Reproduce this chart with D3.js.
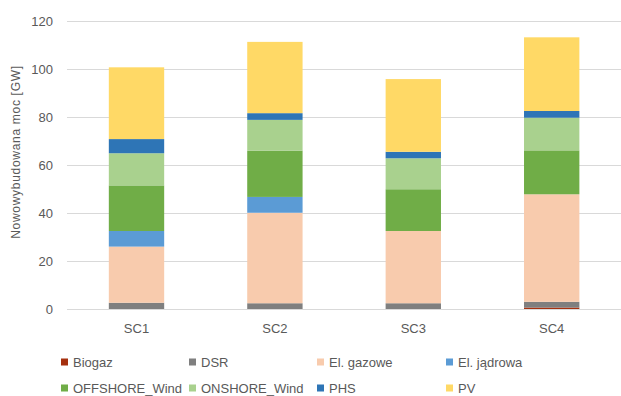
<!DOCTYPE html>
<html><head><meta charset="utf-8">
<script src="https://cdn.jsdelivr.net/npm/d3@7"></script>
<style>body{margin:0;background:#fff}svg{display:block}</style>
</head><body><svg id="c" width="621" height="396"></svg>
<script>
const categories = ["SC1","SC2","SC3","SC4"];
const seriesNames = ["Biogaz","DSR","El. gazowe","El. jądrowa","OFFSHORE_Wind","ONSHORE_Wind","PHS","PV"];
const biogaz   = [0, 0, 0, 0.6];
const dsr      = [2.6, 2.4, 2.4, 2.4];
const gazowe   = [23.4, 37.7, 30.1, 44.8];
const jadrowa  = [6.5, 6.6, 0, 0];
const offshore = [19.0, 19.3, 17.4, 18.3];
const onshore  = [13.4, 12.8, 12.9, 13.6];
const phs      = [5.9, 2.8, 2.7, 2.8];
const pv       = [29.9, 29.7, 30.3, 30.7];
const yTicks = [0,20,40,60,80,100,120];
const colors = ["#A5300F","#7F7F7F","#F8CBAD","#5B9BD5","#70AD47","#A9D18E","#2E75B6","#FFD966"];

const seriesValues = [biogaz,dsr,gazowe,jadrowa,offshore,onshore,phs,pv];
const rows = categories.map((c,i)=>{const r={cat:c}; seriesNames.forEach((s,j)=>r[s]=seriesValues[j][i]); return r;});
const stack = d3.stack().keys(seriesNames)(rows);

const svg = d3.select("#c");
const font = "'Liberation Sans', Arial, sans-serif";
const x = d3.scaleBand().domain(categories).range([67.3,620.9]).paddingInner(0.6).paddingOuter(0.3);
const y = d3.scaleLinear().domain([0,120]).range([309,21]);

// gridlines
svg.append("g").selectAll("line").data(yTicks).join("line")
  .attr("x1",67).attr("x2",621)
  .attr("y1",d=>Math.round(y(d))+0.5).attr("y2",d=>Math.round(y(d))+0.5)
  .attr("stroke","#D9D9D9").attr("stroke-width",1);

// y axis labels
const yAxis = svg.append("g").attr("transform","translate(67,0)")
  .call(d3.axisLeft(y).tickValues(yTicks).tickSize(0).tickPadding(14));
yAxis.select(".domain").remove();
yAxis.selectAll("text").attr("fill","#595959").style("font-family",font).style("font-size","13px");

// bars
svg.append("g").selectAll("g").data(stack).join("g")
  .attr("fill",(d,i)=>colors[i])
  .selectAll("rect").data(d=>d).join("rect")
  .attr("x",d=>x(d.data.cat)).attr("width",x.bandwidth())
  .attr("y",d=>y(d[1])).attr("height",d=>Math.max(0,y(d[0])-y(d[1])));

// x axis labels
const xAxis = svg.append("g").attr("transform","translate(0,309)")
  .call(d3.axisBottom(x).tickSize(0).tickPadding(15));
xAxis.select(".domain").remove();
xAxis.selectAll("text").attr("fill","#595959").style("font-family",font).style("font-size","13px");

// y title
svg.append("text").attr("transform","translate(17,152) rotate(-90)")
  .attr("text-anchor","middle").attr("dominant-baseline","middle")
  .attr("fill","#595959").style("font-family",font).style("font-size","12px")
  .style("letter-spacing","0.7px")
  .text("Nowowybudowana moc [GW]");

// legend
const legX = [61,189,317,446], legY = [362,388];
const leg = svg.append("g").selectAll("g").data(seriesNames).join("g")
  .attr("transform",(d,i)=>`translate(${legX[i%4]},${legY[Math.floor(i/4)]})`);
leg.append("rect").attr("x",0).attr("y",-3.5).attr("width",7).attr("height",7).attr("fill",(d,i)=>colors[i]);
leg.append("text").attr("x",12).attr("y",0).attr("dominant-baseline","central")
  .attr("fill","#595959").style("font-family",font).style("font-size","13px").text(d=>d);
</script></body></html>
